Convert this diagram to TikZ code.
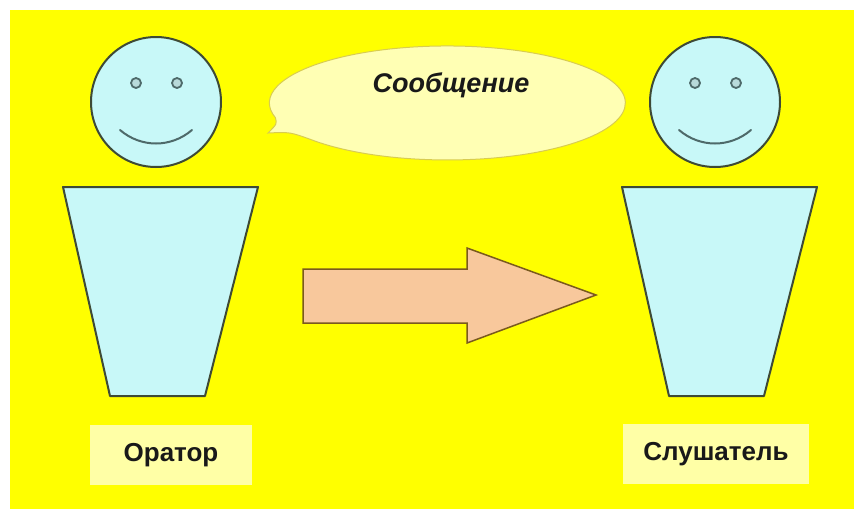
\documentclass[tikz,border=0pt]{standalone}
\usepackage{fontspec}
\setmainfont{Liberation Sans}
\begin{document}
\begin{tikzpicture}[x=1pt,y=-1pt,
  bodyline/.style={draw=linecol, line width=2pt, line join=round},
  skin/.style={fill=skincol},
  eye/.style={draw=eyecol, fill=eyefill, line width=1.8pt},
  labelbox/.style={fill=boxcol, inner sep=0pt, minimum width=#1, minimum height=60pt,
                   font=\fontsize{26}{29}\selectfont\bfseries, text=black!90},
  labelbox/.default=162pt]
\definecolor{bgyellow}{HTML}{FFFF00}
\definecolor{skincol}{HTML}{C8F8F8}
\definecolor{linecol}{HTML}{3E4A36}
\definecolor{eyecol}{HTML}{4E6A6A}
\definecolor{eyefill}{HTML}{B8DADA}
\definecolor{arrowfill}{HTML}{F8C89C}
\definecolor{arrowline}{HTML}{7A5A1E}
\definecolor{bubblefill}{HTML}{FFFFB4}
\definecolor{bubbleline}{HTML}{D8CC50}
\definecolor{boxcol}{HTML}{FFFFA6}

% page and background
\useasboundingbox (0,0) rectangle (854,509);
\fill[white] (0,0) rectangle (854,509);
\fill[bgyellow] (10,10) rectangle (854,509);

% one person: head, eyes, smile and trapezoid body
\foreach \dx/\who in {0/spk, 559/lsn} {
  \begin{scope}[xshift=\dx]
    \coordinate (\who-tl) at (63,187);
    \coordinate (\who-tr) at (258,187);
    \coordinate (\who-br) at (205,396);
    \coordinate (\who-bl) at (110,396);
    \path[skin, bodyline] (\who-tl) -- (\who-tr) -- (\who-br) -- (\who-bl) -- cycle;
    \node[circle, skin, bodyline, minimum size=130pt, inner sep=0pt] (\who-head) at (156,102) {};
    \node[circle, eye, minimum size=10pt, inner sep=0pt] (\who-eyeL) at (136,83) {};
    \node[circle, eye, minimum size=10pt, inner sep=0pt] (\who-eyeR) at (177,83) {};
    \coordinate (\who-m1) at (120,130);
    \coordinate (\who-m2) at (192,130);
    \draw[draw=eyecol, line width=2pt, line cap=round]
      (\who-m1) .. controls (141,148) and (171,148) .. (\who-m2);
  \end{scope}
}

% speech bubble with its tail
\coordinate (tailtip) at (268,133);
\path[fill=bubblefill, draw=bubbleline, line width=1pt]
  (311,139.6) arc[start angle=140, end angle=-195, x radius=178, y radius=57]
  .. controls (277,124) .. (tailtip)
  .. controls (290,132) .. cycle;
\node[font=\fontsize{27}{30}\selectfont\bfseries\itshape, text=black!90] (msg) at (451,85) {Сообщение};

% block arrow from speaker to listener
\path[fill=arrowfill, draw=arrowline, line width=1.5pt, line join=miter]
  (303,269) -- (467,269) -- (467,248) -- (596,295) -- (467,343) -- (467,323) -- (303,323) -- cycle;

% name plates
\node[labelbox=162pt] (orator) at (171,455) {Оратор};
\node[labelbox=186pt] (listener) at (716,454) {Слушатель};
\end{tikzpicture}
\end{document}
